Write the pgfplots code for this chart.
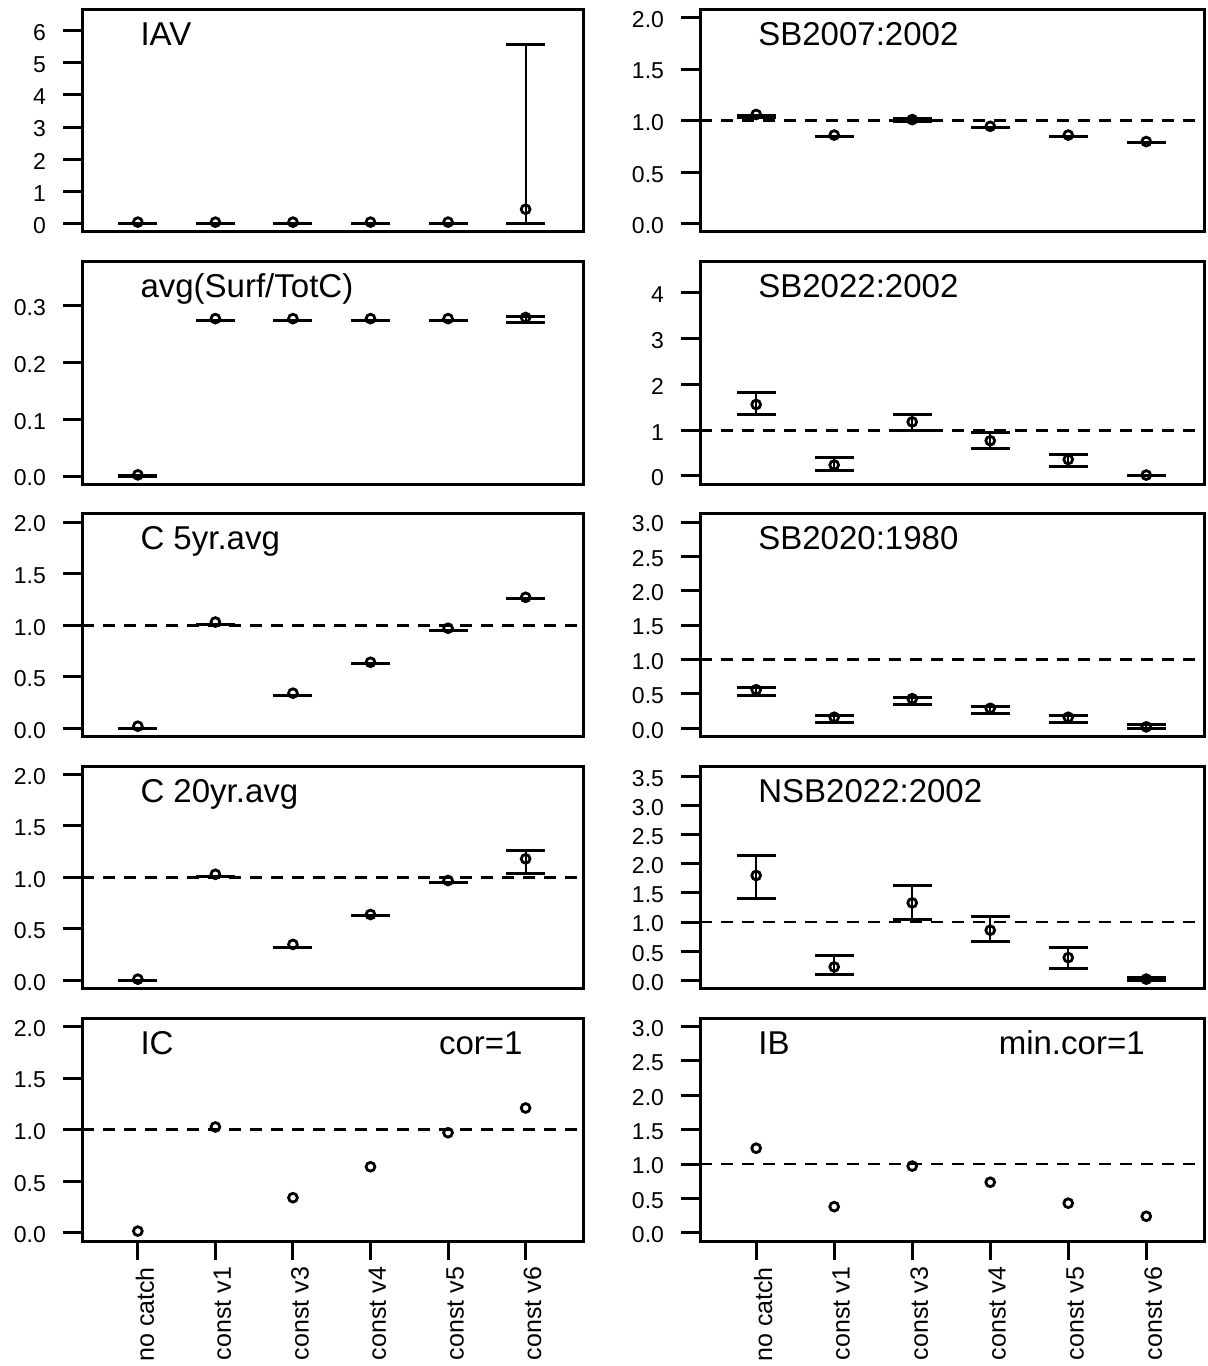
\documentclass[border=0pt]{standalone}
\usepackage{fontspec}
\setmainfont{Liberation Sans}
\usepackage{pgfplots}
\usepackage{pgfplotstable}
\pgfplotsset{compat=1.18}

% x y lo hi
\pgfplotstableread{
x y lo hi
1 0.05 0 0.01
2 0.05 0 0.01
3 0.05 0 0.01
4 0.05 0 0.01
5 0.05 0 0.01
6 0.45 0 5.55
}\IAV
\pgfplotstableread{
x y lo hi
1 0.002 0 0.001
2 0.277 0.274 0.274
3 0.277 0.274 0.274
4 0.277 0.274 0.274
5 0.277 0.274 0.274
6 0.279 0.270 0.280
}\AVG
\pgfplotstableread{
x y lo hi
1 0.02 0 0
2 1.03 1.01 1.01
3 0.34 0.32 0.32
4 0.64 0.63 0.63
5 0.97 0.95 0.95
6 1.27 1.26 1.26
}\CFIVE
\pgfplotstableread{
x y lo hi
1 0.013 0 0
2 1.03 1.01 1.01
3 0.35 0.32 0.32
4 0.64 0.63 0.63
5 0.97 0.95 0.95
6 1.18 1.04 1.26
}\CTWENTY
\pgfplotstableread{
x y
1 0.016
2 1.026
3 0.34
4 0.64
5 0.97
6 1.21
}\IC
\pgfplotstableread{
x y lo hi
1 1.06 1.03 1.05
2 0.86 0.845 0.845
3 1.01 0.99 1.02
4 0.945 0.93 0.93
5 0.86 0.845 0.845
6 0.797 0.784 0.784
}\SBa
\pgfplotstableread{
x y lo hi
1 1.56 1.34 1.82
2 0.24 0.13 0.405
3 1.18 1.0 1.34
4 0.77 0.6 0.95
5 0.36 0.2 0.46
6 0.02 0.0 0.01
}\SBb
\pgfplotstableread{
x y lo hi
1 0.56 0.476 0.59
2 0.16 0.08 0.18
3 0.43 0.34 0.45
4 0.29 0.21 0.32
5 0.16 0.08 0.18
6 0.02 0.0 0.05
}\SBc
\pgfplotstableread{
x y lo hi
1 1.80 1.41 2.14
2 0.23 0.10 0.42
3 1.33 1.04 1.62
4 0.86 0.675 1.10
5 0.39 0.20 0.57
6 0.02 0.0 0.05
}\NSB
\pgfplotstableread{
x y
1 1.23
2 0.38
3 0.97
4 0.735
5 0.43
6 0.24
}\IB

\tikzset{
  ttl/.style={anchor=base west, inner sep=0pt, font=\fontsize{16.5}{18}\selectfont},
  ttr/.style={anchor=base east, inner sep=0pt, font=\fontsize{16.5}{18}\selectfont},
  refline/.style={black, line width=1.4pt, dash pattern=on 6pt off 4.5pt},
}
\pgfplotsset{
  panel/.style={
    scale only axis, height=111.35pt,
    xmin=0.28, xmax=6.74,
    axis line style={line width=1.5pt},
    tick style={line width=1.5pt, black},
    major tick length=9.5pt, tick align=outside,
    ytick pos=left, xtick=\empty,
    /pgf/number format/assume math mode=true,
    yticklabel style={font=\fontsize{11.5}{13}\selectfont, xshift=-5pt, yshift=-1pt},
  },
  leftcol/.style={panel, width=250.5pt},
  rightcol/.style={panel, width=252pt},
  onedec/.style={yticklabel style={/pgf/number format/.cd, fixed, fixed zerofill, precision=1}},
  intdec/.style={yticklabel style={/pgf/number format/.cd, fixed, precision=0}},
  bottomrow/.style={xtick={1,2,3,4,5,6}, xtick pos=bottom,
    xticklabels={no catch,const v1,const v3,const v4,const v5,const v6},
    xticklabel style={rotate=90, anchor=east, yshift=-3.5pt, font=\fontsize{12.5}{14}\selectfont}},
}

\newcommand{\ebars}[1]{%
  \addplot[only marks, mark=-, mark size=9.75pt, mark options={line width=1.5pt}, black,
    error bars/.cd, y dir=plus, y explicit, error mark=none,
    error bar style={line width=1.1pt, black}]
    table[x=x, y=lo, y error expr=\thisrow{hi}-\thisrow{lo}] {#1};
  \addplot[only marks, mark=-, mark size=9.75pt, mark options={line width=1.5pt}, black] table[x=x, y=hi] {#1};
  \addplot[only marks, mark=o, mark size=2.2pt, mark options={line width=1.4pt}, black] table[x=x, y=y] {#1};
}
\newcommand{\pts}[1]{%
  \addplot[only marks, mark=o, mark size=2.2pt, mark options={line width=1.4pt}, black] table[x=x, y=y] {#1};
}
\newcommand{\refl}{\addplot[refline] coordinates {(0.28,1) (6.74,1)};}

\begin{document}
\begin{tikzpicture}
\useasboundingbox (0,0) rectangle (603.5pt,683pt);

% ---------- row 1 ----------
\begin{axis}[leftcol, at={(41pt,567pt)}, anchor=south west,
  ymin=-0.256, ymax=6.656, ytick={0,1,2,3,4,5,6}, intdec]
\ebars{\IAV}
\node[ttl] at (rel axis cs:0.116,0.838) {IAV};
\end{axis}
\begin{axis}[rightcol, at={(350pt,567pt)}, anchor=south west,
  ymin=-0.08, ymax=2.08, ytick={0,0.5,1,1.5,2}, onedec]
\refl
\ebars{\SBa}
\node[ttl] at (rel axis cs:0.115,0.838) {SB2007:2002};
\end{axis}

% ---------- row 2 ----------
\begin{axis}[leftcol, at={(41pt,440.875pt)}, anchor=south west,
  ymin=-0.0145, ymax=0.3775, ytick={0,0.1,0.2,0.3}, onedec]
\ebars{\AVG}
\node[ttl] at (rel axis cs:0.116,0.838) {avg(Surf/TotC)};
\end{axis}
\begin{axis}[rightcol, at={(350pt,440.875pt)}, anchor=south west,
  ymin=-0.18, ymax=4.68, ytick={0,1,2,3,4}, intdec]
\refl
\ebars{\SBb}
\node[ttl] at (rel axis cs:0.115,0.838) {SB2022:2002};
\end{axis}

% ---------- row 3 ----------
\begin{axis}[leftcol, at={(41pt,314.75pt)}, anchor=south west,
  ymin=-0.08, ymax=2.08, ytick={0,0.5,1,1.5,2}, onedec]
\refl
\ebars{\CFIVE}
\node[ttl] at (rel axis cs:0.116,0.838) {C 5yr.avg};
\end{axis}
\begin{axis}[rightcol, at={(350pt,314.75pt)}, anchor=south west,
  ymin=-0.12, ymax=3.12, ytick={0,0.5,1,1.5,2,2.5,3}, onedec]
\refl
\ebars{\SBc}
\node[ttl] at (rel axis cs:0.115,0.838) {SB2020:1980};
\end{axis}

% ---------- row 4 ----------
\begin{axis}[leftcol, at={(41pt,188.625pt)}, anchor=south west,
  ymin=-0.08, ymax=2.08, ytick={0,0.5,1,1.5,2}, onedec]
\refl
\ebars{\CTWENTY}
\node[ttl] at (rel axis cs:0.116,0.838) {C 20yr.avg};
\end{axis}
\begin{axis}[rightcol, at={(350pt,188.625pt)}, anchor=south west,
  ymin=-0.145, ymax=3.68, ytick={0,0.5,1,1.5,2,2.5,3,3.5}, onedec]
\refl
\ebars{\NSB}
\node[ttl] at (rel axis cs:0.115,0.838) {NSB2022:2002};
\end{axis}

% ---------- row 5 ----------
\begin{axis}[leftcol, at={(41pt,62.5pt)}, anchor=south west,
  ymin=-0.08, ymax=2.08, ytick={0,0.5,1,1.5,2}, onedec, bottomrow]
\refl
\pts{\IC}
\node[ttl] at (rel axis cs:0.116,0.838) {IC};
\node[ttr] at (rel axis cs:0.88,0.838) {cor=1};
\end{axis}
\begin{axis}[rightcol, at={(350pt,62.5pt)}, anchor=south west,
  ymin=-0.12, ymax=3.12, ytick={0,0.5,1,1.5,2,2.5,3}, onedec, bottomrow]
\refl
\pts{\IB}
\node[ttl] at (rel axis cs:0.115,0.838) {IB};
\node[ttr] at (rel axis cs:0.883,0.838) {min.cor=1};
\end{axis}
\end{tikzpicture}
\end{document}
